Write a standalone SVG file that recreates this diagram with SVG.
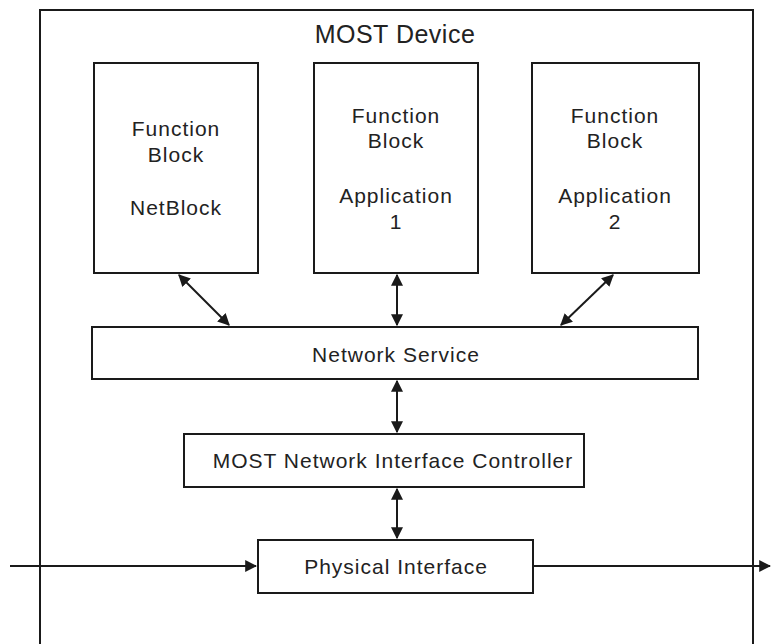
<svg xmlns="http://www.w3.org/2000/svg" width="771" height="644" viewBox="0 0 771 644">
  <style>
    .box { fill: #ffffff; stroke: #1a1a1a; stroke-width: 2; }
    .frame { fill: none; stroke: #1a1a1a; stroke-width: 2; }
    .lbl { font-family: "Liberation Sans", Arial, sans-serif; font-size: 21px; letter-spacing: 1px; fill: #222222; text-anchor: middle; }
    .title { font-family: "Liberation Sans", Arial, sans-serif; font-size: 25px; letter-spacing: 0.5px; fill: #222222; text-anchor: middle; }
    .link { fill: none; stroke: #1a1a1a; stroke-width: 2; }
  </style>
  <defs>
    <marker id="head" viewBox="0 0 10 10" refX="9" refY="5" markerWidth="6" markerHeight="6" orient="auto-start-reverse" markerUnits="strokeWidth">
      <path d="M0,0 L10,5 L0,10 z" fill="#1a1a1a"/>
    </marker>
  </defs>
  <rect width="771" height="644" fill="#ffffff"/>

  <!-- device frame -->
  <g id="most-device">
    <rect class="frame" x="40" y="10" width="713" height="650"/>
    <text class="title" x="395" y="43">MOST Device</text>
  </g>

  <g id="fb-netblock">
    <rect class="box" x="94" y="63" width="164" height="210"/>
    <text class="lbl" x="176" y="136">Function</text>
    <text class="lbl" x="176" y="162">Block</text>
    <text class="lbl" x="176" y="215">NetBlock</text>
  </g>

  <g id="fb-app1">
    <rect class="box" x="314" y="63" width="164" height="210"/>
    <text class="lbl" x="396" y="123">Function</text>
    <text class="lbl" x="396" y="148">Block</text>
    <text class="lbl" x="396" y="203">Application</text>
    <text class="lbl" x="396" y="229">1</text>
  </g>

  <g id="fb-app2">
    <rect class="box" x="532" y="63" width="167" height="210"/>
    <text class="lbl" x="615" y="123">Function</text>
    <text class="lbl" x="615" y="148">Block</text>
    <text class="lbl" x="615" y="203">Application</text>
    <text class="lbl" x="615" y="229">2</text>
  </g>

  <g id="network-service">
    <rect class="box" x="92" y="327" width="606" height="52"/>
    <text class="lbl" x="396" y="362">Network Service</text>
  </g>

  <g id="nic">
    <rect class="box" x="184" y="434" width="400" height="53"/>
    <text class="lbl" x="393" y="468">MOST Network Interface Controller</text>
  </g>

  <g id="physical-interface">
    <rect class="box" x="258" y="540" width="275" height="53"/>
    <text class="lbl" x="396" y="574">Physical Interface</text>
  </g>

  <!-- connectors -->
  <g id="connectors">
    <line class="link" x1="179" y1="275" x2="229" y2="325" marker-start="url(#head)" marker-end="url(#head)"/>
    <line class="link" x1="397" y1="275" x2="397" y2="325" marker-start="url(#head)" marker-end="url(#head)"/>
    <line class="link" x1="613" y1="275" x2="561" y2="325" marker-start="url(#head)" marker-end="url(#head)"/>
    <line class="link" x1="397" y1="381" x2="397" y2="432" marker-start="url(#head)" marker-end="url(#head)"/>
    <line class="link" x1="397" y1="489" x2="397" y2="538" marker-start="url(#head)" marker-end="url(#head)"/>
    <line class="link" x1="10" y1="566" x2="256" y2="566" marker-end="url(#head)"/>
    <line class="link" x1="533" y1="566" x2="770" y2="566" marker-end="url(#head)"/>
  </g>
</svg>
